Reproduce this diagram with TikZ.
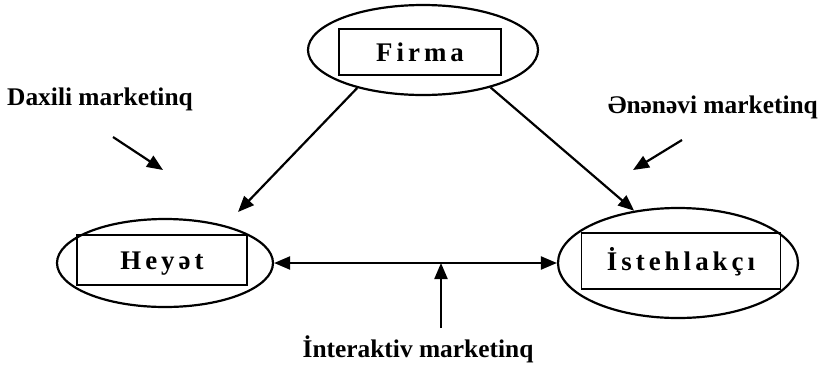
\documentclass[tikz,border=0pt]{standalone}
\usepackage{fontspec}
\setmainfont{Liberation Serif}
\usetikzlibrary{shapes.geometric,arrows.meta,calc}
\begin{document}
\begin{tikzpicture}[x=1bp,y=-1bp,
  oval/.style={draw,ellipse,line width=2.2bp,inner sep=0pt},
  box/.style={draw,rectangle,line width=1.8bp,inner sep=0pt,
    text height=18bp,text depth=0bp,
    font=\fontsize{27}{30}\selectfont\bfseries\addfontfeatures{LetterSpace=15}},
  lbl/.style={font=\fontsize{25.5}{30}\selectfont\bfseries,inner sep=0pt},
  tip/.style={Triangle[length=16bp,width=13bp]},
  arr/.style={line width=2.2bp,-{Triangle[length=16bp,width=13bp]}},
  dblarr/.style={line width=2.2bp,{Triangle[length=16bp,width=13bp]}-{Triangle[length=16bp,width=13bp]}},
]
\useasboundingbox (0,0) rectangle (830,376);

% three parties: firm, staff, consumer
\node[oval,minimum width=230bp,minimum height=90bp] (firmaE) at (423,50) {};
\node[box,minimum width=162bp,minimum height=46bp] (firma) at (420,52) {Firma};

\node[oval,minimum width=216bp,minimum height=88bp] (heyetE) at (165,263) {};
\node[box,minimum width=170bp,minimum height=50bp] (heyet) at (162,260) {Heyət};

\node[oval,minimum width=240bp,minimum height=110bp] (istE) at (678,263) {};
\node[box,minimum width=199bp,minimum height=56bp] (ist) at (681,261) {İstehlakçı};

% marketing labels
\node[lbl,anchor=base west] (daxili) at (7,105) {Daxili marketinq};
\node[lbl,anchor=base east] (enenevi) at (818,113) {Ənənəvi marketinq};
\node[lbl,anchor=base] (interaktiv) at (418,357) {İnteraktiv marketinq};

% free arrow ends
\coordinate (hTip) at (238,212);
\coordinate (dA) at (113,137);
\coordinate (dB) at (163,170);
\coordinate (eA) at (682,140);
\coordinate (eB) at (633,170);
\coordinate (iA) at (441,328);

% connectors
\draw[arr] (firmaE.210) -- (hTip);
\draw[arr] (firmaE.331) -- (istE.130);
\draw[dblarr] (heyetE.east) -- (istE.west);
\draw[arr] (iA) -- (iA |- heyetE.east);
\draw[arr] (dA) -- (dB);
\draw[arr] (eA) -- (eB);
\end{tikzpicture}
\end{document}
